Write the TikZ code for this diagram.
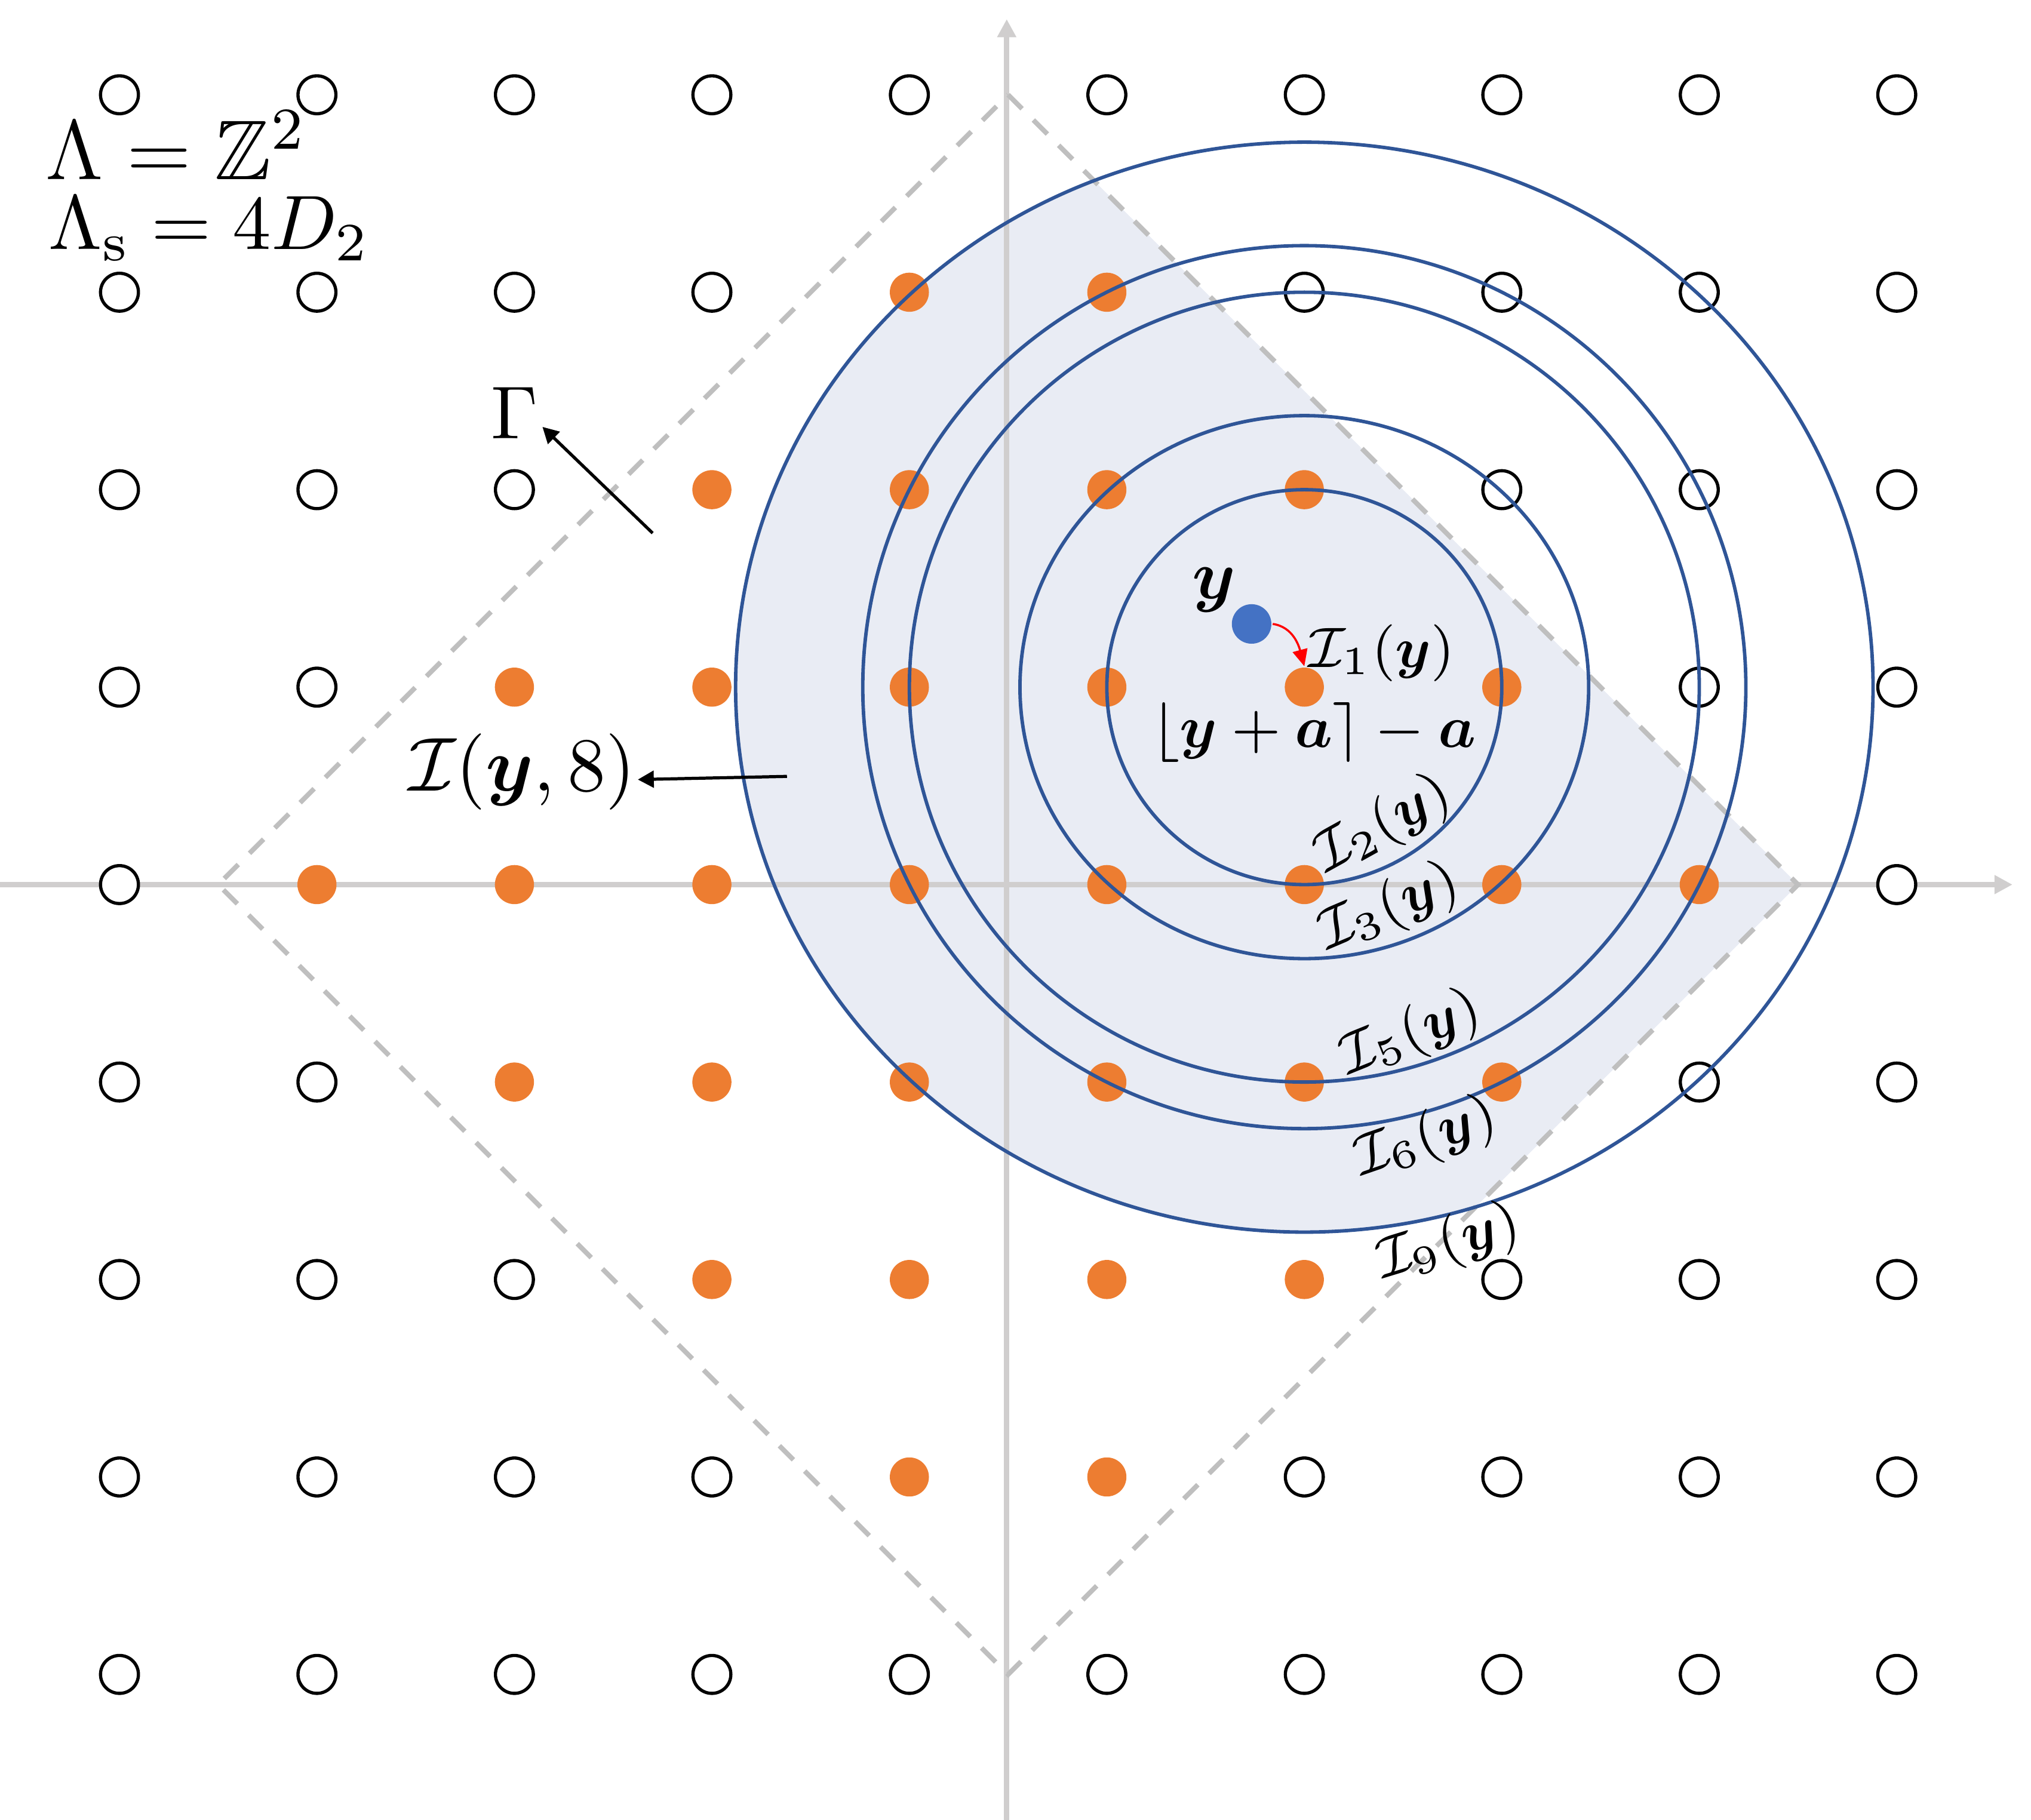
\RequirePackage{fix-cm}
\documentclass[tikz,border=0pt]{standalone}
\usepackage{amsmath,amssymb}
\usetikzlibrary{arrows.meta}
\definecolor{axisgray}{RGB}{208,206,206}
\definecolor{dashgray}{RGB}{191,191,191}
\definecolor{shadefill}{RGB}{233,236,244}
\definecolor{ringblue}{RGB}{47,85,151}
\definecolor{dotorange}{RGB}{237,125,49}
\definecolor{dotblue}{RGB}{68,114,196}
\newcommand{\setfs}[1]{\fontsize{#1}{#1}\selectfont}
\tikzset{
  hollowpt/.style={circle, draw=black, fill=white, line width=0.46pt, minimum size=0.192cm, inner sep=0pt},
  filledpt/.style={circle, fill=dotorange, minimum size=0.198cm, inner sep=0pt},
  ring/.style={draw=ringblue, line width=0.5pt},
  axisline/.style={draw=axisgray, line width=0.8pt, -{Triangle[length=2.6pt,width=2.6pt]}},
  vor/.style={draw=dashgray, line width=0.7pt, dash pattern=on 2.85pt off 2.3pt},
  pointer/.style={draw=black, line width=0.45pt, -{Triangle[length=2.3pt,width=2.4pt]}},
  lbl/.style={inner sep=0pt, outer sep=0pt},
}
\begin{document}
\begin{tikzpicture}
\useasboundingbox (-0.605,-4.737) rectangle (9.680,4.480);
% shaded region: ball intersected with Voronoi region
\begin{scope}
  \clip (4.5,4) -- (8.5,0) -- (4.5,-4) -- (0.5,0) -- cycle;
  \fill[shadefill] (6,1) ellipse [x radius=2.88, y radius=2.76];
\end{scope}
% axes
\coordinate (xl) at (-0.605,0);
\coordinate (xr) at (9.586,0);
\coordinate (yb) at (4.493,-4.737);
\coordinate (yt) at (4.493,4.383);
\draw[axisline] (xl) -- (xr);
\draw[axisline] (yb) -- (yt);
% Voronoi region of 4D_2
\coordinate (vt) at (4.5,4);
\coordinate (vr) at (8.5,0);
\coordinate (vb) at (4.5,-4);
\coordinate (vl) at (0.5,0);
\draw[vor] (vt) -- (vr) -- (vb) -- (vl) -- cycle;
% lattice points
\foreach \c in {0,...,9}{
  \foreach \r in {0,...,8}{
    \pgfmathtruncatemacro{\yy}{4-\r}
    \pgfmathtruncatemacro{\inside}{(abs(2*\c-9)+2*abs(\yy))<8}
    \ifnum\inside=1
      \node[filledpt] (p-\c-\r) at (\c,\yy) {};
    \else
      \node[hollowpt] (p-\c-\r) at (\c,\yy) {};
    \fi
  }
}
% rings around the nearest point
\coordinate (c) at (p-6-3.center);
\draw[ring] (c) circle [radius=1];
\draw[ring] (c) ellipse [x radius=1.44, y radius=1.375];
\draw[ring] (c) circle [radius=2];
\draw[ring] (c) circle [radius=2.236];
\draw[ring] (c) ellipse [x radius=2.88, y radius=2.76];
% the point y
\node[circle, fill=dotblue, minimum size=0.2cm, inner sep=0pt] (ydot) at (5.733,1.320) {};
\node[lbl] (ylbl) at (5.542,1.491) {\setfs{10}$\boldsymbol{y}$};
\draw[red, line width=0.3pt, -{Triangle[length=2.4pt,width=2.15pt]}] (ydot.east) to[out=-8,in=105] (p-6-3.north);
\node[lbl] (i1) at (6.39,1.172) {\setfs{8.2}$\mathcal{I}_1(\boldsymbol{y})$};
\node[lbl] (rnd) at (6.049,0.771) {\setfs{8.6}$\lfloor\boldsymbol{y}+\boldsymbol{a}\rceil-\boldsymbol{a}$};
% ring labels
\node[lbl, rotate=29] (i2) at (6.40,0.30) {\setfs{8.2}$\mathcal{I}_2(\boldsymbol{y})$};
\node[lbl, rotate=23] (i3) at (6.43,-0.12) {\setfs{8.2}$\mathcal{I}_3(\boldsymbol{y})$};
\node[lbl, rotate=22] (i5) at (6.54,-0.76) {\setfs{8.2}$\mathcal{I}_5(\boldsymbol{y})$};
\node[lbl, rotate=19] (i6) at (6.616,-1.288) {\setfs{8.2}$\mathcal{I}_6(\boldsymbol{y})$};
\node[lbl, rotate=17] (i9) at (6.73,-1.82) {\setfs{8.2}$\mathcal{I}_9(\boldsymbol{y})$};
% Gamma and I(y,8)
\node[lbl] (gam) at (2.002,2.39) {\setfs{10.8}$\Gamma$};
\coordinate (gtail) at (2.700,1.780);
\coordinate (gtip) at (2.142,2.318);
\draw[pointer] (gtail) -- (gtip);
\node[lbl] (iy8) at (2.04,0.570) {\setfs{11}$\mathcal{I}(\boldsymbol{y},8)$};
\coordinate (itail) at (3.380,0.548);
\coordinate (itip) at (2.625,0.532);
\draw[pointer] (itail) -- (itip);
% lattice names
\node[lbl, anchor=base west] (lam) at (-0.373,3.571) {\setfs{12.2}$\Lambda=\mathbb{Z}^2$};
\node[lbl, anchor=base west] (lams) at (-0.358,3.218) {\setfs{11.1}$\Lambda_{\mathrm{s}}=4D_2$};
\end{tikzpicture}
\end{document}
